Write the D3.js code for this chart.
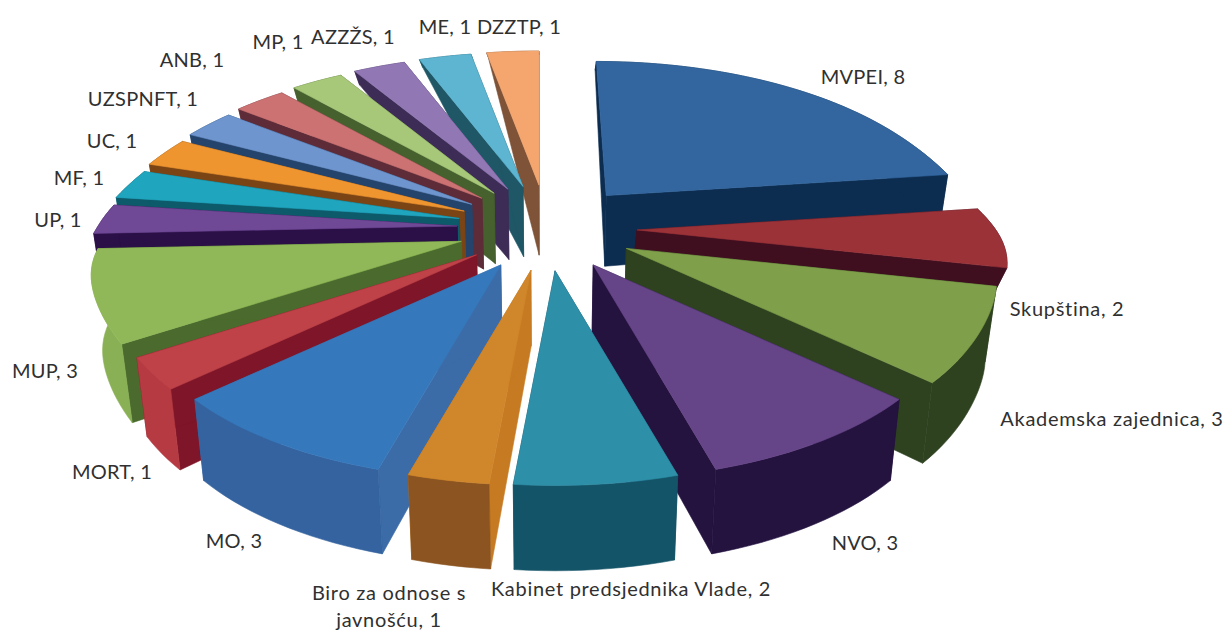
<!DOCTYPE html>
<html>
<head>
<meta charset="utf-8">
<script src="https://cdnjs.cloudflare.com/ajax/libs/d3/7.8.5/d3.min.js"></script>
<style>
	html, body { margin: 0; padding: 0; background: #fff; }
	svg { display: block; }
	text { font-family: Lato, "Open Sans", sans-serif; font-size: 20px; fill: #303030; }
</style>
</head>
<body>
<script>
// chart data
var categories = ["MVPEI", "Skupština", "Akademska zajednica", "NVO", "Kabinet predsjednika Vlade",
	"Biro za odnose s javnošću", "MO", "MORT", "MUP", "UP", "MF", "UC", "UZSPNFT", "ANB", "MP",
	"AZZŽS", "ME", "DZZTP"];
var values = [8, 2, 3, 3, 2, 1, 3, 1, 3, 1, 1, 1, 1, 1, 1, 1, 1, 1];

// colours: top face, cut walls, outer wall
var topColors = ["#33669f", "#9a3238", "#7f9f4a", "#664488", "#2e8fa8", "#d0862b", "#3678bc", "#be4248", "#90b858",
	"#6f4896", "#20a5be", "#ef9530", "#6e95ce", "#cc7272", "#a6c878", "#9178b5", "#5db5d2", "#f4a66e"];
var cutColors = ["#0d2d50", "#3f0f20", "#2e4220", "#24123f", "#124f62", "#c67b22", "#3b6ca8", "#7e1528", "#4a6b2d",
	"#2b0f47", "#0c5a6a", "#7a4415", "#24446c", "#5e2c38", "#46602e", "#3d2c55", "#1f5766", "#7e5338"];
var outerColors = ["#0d2d50", "#3f0f20", "#2e4220", "#24123f", "#145468", "#8b5420", "#34639f", "#b53a42", "#8ab055",
	"#2b0f47", "#0c5a6a", "#7a4415", "#24446c", "#5e2c38", "#46602e", "#3d2c55", "#1f5766", "#7e5338"];

// how tall each wall is drawn, as a share of the full height
var wallShare = [1, 0.3, 1, 1, 1, 1, 1, 1, 1, 1, 1, 1, 1, 1, 1, 1, 1, 1];

// where the labels sit (centre x, baseline y)
var labelX = [863, 1067, 1112, 865, 631, 389, 234, 112, 45, 58, 79, 112, 143, 192, 278, 353, 445, 519];
var labelY = [84, 316, 426, 550, 596, 600, 548, 479, 378, 227, 185, 148, 106, 67, 49, 44, 34, 34];

window.onload = function() {
	makePie();
};

function makePie() {

	var w = 1225, h = 632;

	var svg = d3.select("body").append("svg")
		.attr("width", w)
		.attr("height", h);

	// ring of slice tips
	var ring = { cx: 547, cy: 228, rx: 90, ry: 43 };
	// the face of a slice, seen with some perspective
	var face = { rx: 350, bulge: 10, ry: 161, pBack: 0.2, pFront: 0.25 };

	// wall height shrinks fast toward the back of the pie
	var wallHeight = d3.scaleLinear()
		.domain([50, 185, 270, 480])
		.range([3, 70, 75, 85]);

	var pie = d3.pie().sort(null);
	var line = d3.line();

	function tip(a) {
		return [ring.cx + ring.rx * Math.sin(a), ring.cy - ring.ry * Math.cos(a)];
	}

	function rim(t, a) {
		var Y = -Math.cos(a);
		var s = 1 / (1 - (Y < 0 ? face.pBack : face.pFront) * Y);
		// pie is a bit wider around its middle than plain perspective gives
		var rx = face.rx + face.bulge * Math.exp(-Math.pow((Y - 0.1) / 0.3, 2));
		// back right of the pie leans in
		var lean = s < 1 ? Math.max(0, t[0] - ring.cx) * (s - 1) : 0;
		return [t[0] + rx * Math.sin(a) * s + lean, t[1] + face.ry * Y * s];
	}

	function below(pt, share) {
		return [pt[0] + 0.025 * (ring.cx - pt[0]), pt[1] + share * wallHeight(pt[1])];
	}

	var slices = pie(values).map(function(d) {
		var mid = (d.startAngle + d.endAngle) / 2;
		var t = tip(mid);
		var n = Math.max(3, Math.round((d.endAngle - d.startAngle) / 0.03));
		var arc = d3.range(n + 1).map(function(i) {
			return rim(t, d.startAngle + (d.endAngle - d.startAngle) * i / n);
		});
		return { i: d.index, mid: mid, tip: t, arc: arc };
	});

	// back slices first
	slices.sort(function(a, b) { return Math.cos(b.mid) - Math.cos(a.mid); });

	var groups = svg.selectAll(".slice")
		.data(slices)
		.enter().append("g")
		.attr("class", "slice");

	function addFace(sel, points, color) {
		sel.append("path")
			.attr("d", line(points) + "Z")
			.attr("fill", color)
			.attr("stroke", color)
			.attr("stroke-width", 0.6)
			.attr("stroke-linejoin", "round");
	}

	groups.each(function(d) {
		var g = d3.select(this);
		var first = d.arc[0], last = d.arc[d.arc.length - 1];
		var share = wallShare[d.i];
		var drop = function(pt) { return below(pt, share); };

		addFace(g, [d.tip, first, drop(first), drop(d.tip)], cutColors[d.i]);
		addFace(g, [d.tip, last, drop(last), drop(d.tip)], cutColors[d.i]);
		addFace(g, d.arc.concat(d.arc.map(drop).reverse()), outerColors[d.i]);
		addFace(g, [d.tip].concat(d.arc), topColors[d.i]);
	});

	// labels
	var labels = svg.selectAll(".label")
		.data(categories)
		.enter().append("text")
		.attr("class", "label")
		.attr("text-anchor", "middle")
		.attr("x", function(d, i) { return labelX[i]; })
		.attr("y", function(d, i) { return labelY[i]; })
		.style("letter-spacing", function(d) { return /[a-z]/.test(d) ? "0.7px" : "0.25px"; });

	labels.each(function(d, i) {
		var text = d + ", " + values[i];
		if (d.indexOf("Biro") == 0) {
			var el = d3.select(this);
			el.append("tspan").attr("x", labelX[i]).text("Biro za odnose s");
			el.append("tspan").attr("x", labelX[i]).attr("dy", 27).text("javnošću, " + values[i]);
		}
		else {
			d3.select(this).text(text);
		}
	});
}
</script>
</body>
</html>
